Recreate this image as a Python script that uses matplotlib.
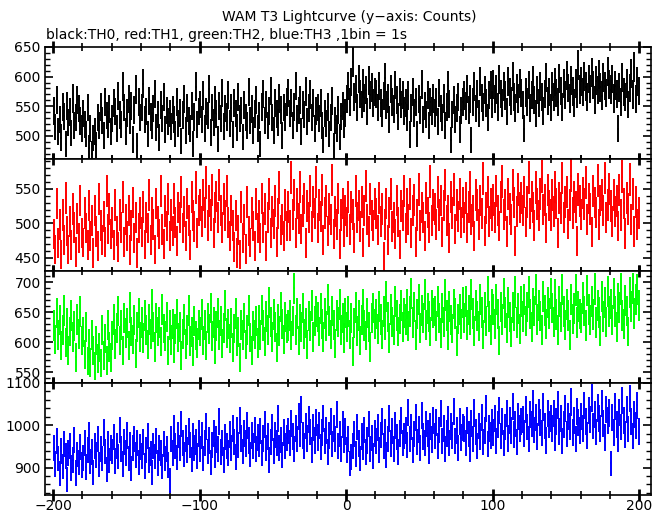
import numpy as np
import matplotlib
matplotlib.use("Agg")
import matplotlib.pyplot as plt
from matplotlib.ticker import MultipleLocator

plt.rcParams["font.family"] = ["DejaVu Sans"]

# centri dei bin (1 bin = 1 s)
tempi = np.arange(-200, 200, 1) + 0.5

# TH0 (nero)
th0 = [
    542, 515, 561, 508, 528, 497, 549, 533, 486, 551, 522, 540, 505, 563, 518, 531, 560, 546, 525, 512,
    538, 520, 503, 548, 479, 512, 470, 496, 508, 485, 531, 517, 549, 526, 501, 558, 534, 519, 545, 507,
    529, 556, 541, 512, 567, 535, 520, 583, 548, 507, 539, 562, 526, 551, 494, 544, 578, 483, 557, 531,
    548, 588, 527, 541, 503, 559, 532, 518, 546, 571, 514, 536, 497, 552, 529, 565, 511, 543, 524, 538,
    516, 544, 528, 503, 557, 521, 539, 491, 535, 562, 509, 547, 525, 513, 551, 487, 532, 583, 519, 541,
    553, 527, 568, 512, 541, 534, 579, 506, 548, 523, 560, 537, 495, 551, 529, 572, 516, 546, 532, 569,
    521, 547, 502, 556, 538, 514, 566, 529, 543, 498, 552, 531, 517, 574, 526, 545, 509, 537, 560, 512,
    534, 487, 549, 571, 526, 553, 518, 542, 576, 531, 509, 555, 537, 522, 563, 544, 501, 548, 532, 558,
    572, 538, 556, 517, 549, 584, 529, 543, 561, 508, 552, 536, 575, 524, 547, 570, 531, 555, 513, 542,
    548, 529, 556, 517, 493, 538, 521, 549, 503, 531, 559, 483, 526, 512, 544, 498, 533, 551, 520, 539,
    562, 584, 557, 591, 625, 566, 579, 548, 596, 571, 553, 588, 564, 577, 541, 593, 569, 582, 556, 574,
    571, 548, 584, 556, 539, 567, 598, 552, 563, 527, 579, 558, 545, 586, 561, 533, 574, 553, 569, 542,
    556, 531, 568, 502, 547, 574, 539, 558, 503, 562, 544, 587, 527, 551, 536, 569, 518, 557, 542, 563,
    539, 558, 524, 572, 546, 531, 563, 517, 549, 585, 554, 493, 536, 560, 528, 547, 566, 511, 543, 557,
    568, 551, 579, 544, 562, 493, 557, 583, 546, 571, 538, 592, 564, 549, 577, 556, 531, 569, 586, 553,
    587, 562, 578, 549, 595, 571, 556, 583, 568, 541, 592, 574, 559, 601, 566, 547, 580, 563, 588, 572,
    552, 512, 573, 558, 586, 547, 569, 594, 561, 538, 577, 555, 583, 566, 542, 571, 598, 559, 574, 548,
    583, 566, 591, 572, 558, 597, 576, 549, 588, 569, 602, 581, 563, 594, 575, 556, 589, 571, 620, 578,
    592, 574, 601, 583, 565, 596, 579, 607, 586, 561, 593, 577, 604, 582, 568, 598, 584, 572, 609, 587,
    578, 596, 563, 585, 571, 512, 582, 557, 598, 574, 566, 589, 553, 581, 605, 570, 616, 562, 592, 576,
]

# TH1 (rosso)
th1 = [
    484, 462, 529, 471, 498, 455, 512, 476, 537, 489, 462, 503, 468, 521, 494, 458, 507, 479, 533, 486,
    472, 515, 493, 468, 526, 481, 504, 457, 519, 488, 467, 535, 497, 476, 510, 473, 547, 492, 521, 484,
    501, 468, 527, 489, 466, 512, 494, 538, 473, 506, 482, 519, 461, 497, 530, 478, 509, 457, 493, 515,
    487, 524, 469, 508, 493, 541, 476, 515, 498, 462, 529, 503, 484, 547, 491, 470, 518, 496, 535, 481,
    512, 489, 536, 501, 474, 523, 508, 545, 493, 517, 482, 529, 504, 468, 538, 511, 495, 552, 486, 519,
    527, 503, 541, 516, 559, 497, 532, 512, 548, 486, 523, 539, 508, 556, 519, 494, 535, 511, 547, 501,
    482, 519, 497, 466, 511, 457, 490, 455, 524, 478, 505, 463, 531, 489, 472, 515, 496, 467, 528, 493,
    511, 478, 536, 494, 521, 467, 508, 543, 486, 517, 499, 532, 473, 514, 552, 490, 506, 481, 527, 496,
    524, 497, 567, 513, 541, 486, 529, 507, 553, 492, 518, 536, 471, 525, 509, 547, 495, 531, 514, 560,
    493, 527, 510, 548, 476, 515, 532, 489, 521, 505, 563, 484, 517, 498, 536, 470, 512, 529, 487, 519,
    502, 538, 491, 524, 513, 479, 547, 508, 526, 495, 531, 472, 519, 554, 506, 488, 535, 511, 497, 528,
    514, 490, 537, 503, 521, 452, 498, 529, 476, 516, 543, 495, 508, 484, 533, 502, 469, 525, 511, 547,
    493, 528, 505, 542, 486, 519, 534, 473, 512, 549, 497, 523, 508, 481, 537, 516, 494, 561, 504, 527,
    521, 498, 545, 512, 533, 487, 526, 556, 504, 519, 478, 538, 515, 549, 492, 527, 510, 543, 501, 530,
    509, 537, 493, 524, 552, 506, 518, 481, 541, 527, 498, 533, 514, 565, 489, 522, 546, 503, 529, 511,
    534, 508, 547, 519, 496, 538, 561, 513, 527, 488, 542, 521, 505, 556, 530, 474, 517, 549, 523, 537,
    519, 546, 502, 531, 567, 514, 539, 523, 497, 552, 528, 511, 543, 568, 520, 534, 493, 548, 526, 512,
    541, 517, 553, 529, 486, 537, 522, 566, 508, 531, 545, 499, 527, 569, 515, 538, 524, 474, 549, 532,
    513, 544, 528, 559, 505, 536, 521, 487, 547, 530, 516, 562, 498, 533, 541, 519, 566, 508, 527, 550,
    525, 503, 541, 517, 532, 496, 548, 512, 568, 529, 485, 537, 521, 564, 506, 543, 488, 531, 498, 515,
]

# TH2 (verde)
th2 = [
    628, 605, 649, 612, 637, 594, 621, 653, 600, 632, 586, 618, 645, 609, 627, 575, 638, 614, 651, 603,
    617, 580, 626, 569, 598, 566, 612, 587, 560, 603, 573, 591, 565, 621, 578, 606, 570, 629, 592, 574,
    611, 638, 597, 624, 652, 603, 629, 586, 641, 615, 632, 594, 658, 618, 605, 637, 582, 626, 649, 609,
    633, 607, 645, 621, 596, 638, 614, 664, 626, 592, 641, 618, 633, 601, 655, 623, 610, 642, 587, 629,
    604, 631, 589, 622, 647, 608, 625, 578, 614, 638, 597, 621, 653, 602, 617, 585, 636, 611, 599, 629,
    618, 646, 603, 629, 594, 641, 622, 657, 610, 633, 588, 627, 649, 612, 636, 598, 624, 661, 615, 631,
    606, 632, 591, 623, 648, 601, 617, 574, 629, 612, 640, 596, 621, 653, 608, 587, 627, 613, 635, 599,
    637, 612, 654, 628, 601, 643, 621, 667, 634, 609, 646, 625, 591, 638, 619, 659, 631, 605, 642, 623,
    628, 645, 611, 636, 690, 620, 648, 603, 639, 625, 657, 614, 632, 596, 644, 627, 661, 609, 635, 651,
    642, 618, 656, 631, 609, 648, 627, 671, 636, 613, 652, 629, 598, 645, 634, 663, 621, 640, 607, 649,
    626, 651, 613, 640, 584, 632, 658, 619, 645, 603, 637, 664, 628, 611, 649, 625, 592, 641, 657, 630,
    647, 622, 660, 638, 613, 651, 629, 676, 642, 607, 655, 634, 621, 668, 645, 618, 639, 662, 626, 649,
    638, 664, 627, 651, 682, 633, 659, 612, 647, 671, 624, 653, 640, 680, 629, 656, 643, 618, 662, 649,
    652, 627, 668, 641, 616, 657, 634, 679, 645, 611, 660, 637, 623, 664, 648, 602, 639, 655, 631, 666,
    641, 668, 629, 654, 637, 680, 648, 619, 661, 644, 627, 672, 650, 613, 658, 636, 685, 643, 621, 663,
    655, 630, 672, 647, 603, 659, 638, 681, 650, 624, 666, 642, 617, 658, 645, 684, 633, 656, 622, 668,
    643, 671, 635, 659, 684, 647, 626, 665, 652, 688, 638, 661, 644, 620, 676, 653, 631, 667, 648, 682,
    657, 634, 679, 646, 621, 668, 642, 688, 651, 629, 663, 645, 612, 672, 639, 656, 687, 633, 660, 647,
    641, 674, 652, 628, 686, 655, 637, 668, 646, 689, 633, 662, 650, 619, 677, 643, 666, 634, 685, 651,
    664, 637, 682, 651, 626, 673, 658, 689, 645, 631, 669, 652, 618, 683, 660, 690, 648, 671, 688, 662,
]

# TH3 (blu)
th3 = [
    946, 908, 962, 921, 885, 939, 903, 956, 927, 872, 934, 951, 899, 918, 965, 887, 931, 912, 948, 906,
    923, 958, 901, 942, 976, 914, 936, 889, 951, 929, 968, 907, 944, 921, 983, 938, 896, 955, 917, 947,
    938, 972, 915, 951, 926, 989, 943, 908, 961, 935, 976, 921, 954, 897, 947, 968, 929, 958, 912, 949,
    927, 961, 904, 942, 975, 918, 933, 889, 952, 926, 963, 911, 947, 935, 902, 956, 921, 944, 906, 870,
    968, 935, 992, 951, 924, 977, 946, 1003, 958, 931, 969, 942, 985, 953, 919, 974, 947, 961, 928, 981,
    943, 976, 921, 959, 997, 938, 964, 912, 953, 981, 929, 966, 945, 1008, 937, 959, 918, 972, 951, 934,
    978, 946, 993, 961, 925, 987, 954, 1012, 969, 938, 981, 957, 999, 964, 931, 976, 952, 989, 943, 971,
    955, 986, 934, 969, 1002, 947, 973, 918, 961, 994, 940, 977, 958, 1016, 946, 965, 929, 983, 952, 970,
    986, 958, 1004, 973, 945, 992, 967, 1021, 981, 1038, 976, 951, 998, 969, 1013, 984, 942, 995, 964, 1007,
    971, 999, 948, 983, 1017, 962, 988, 937, 976, 1009, 955, 992, 968, 1026, 951, 979, 943, 1001, 966, 985,
    942, 968, 910, 925, 951, 979, 932, 996, 957, 921, 973, 948, 989, 936, 964, 1003, 944, 970, 927, 981,
    963, 994, 941, 977, 1008, 952, 983, 929, 968, 1015, 957, 986, 945, 999, 972, 936, 981, 1011, 958, 974,
    987, 954, 1031, 968, 996, 942, 979, 1019, 961, 990, 947, 1024, 973, 958, 1003, 981, 939, 997, 966, 1012,
    974, 1006, 951, 989, 1027, 963, 992, 945, 981, 1014, 958, 997, 976, 1033, 962, 988, 947, 1009, 971, 995,
    991, 958, 1012, 979, 943, 1005, 968, 1029, 984, 952, 998, 973, 1018, 961, 987, 1040, 955, 993, 976, 1007,
    983, 1016, 962, 1001, 1034, 975, 1009, 958, 996, 1027, 969, 1012, 987, 1045, 978, 1003, 961, 1021, 992, 1008,
    1014, 981, 1038, 996, 967, 1025, 1003, 1052, 989, 1019, 973, 1031, 1006, 982, 1043, 998, 964, 1027, 1001, 1016,
    993, 1027, 971, 1009, 1048, 985, 1016, 962, 1002, 1039, 979, 1021, 997, 1055, 983, 1011, 968, 1033, 1006, 988,
    1021, 992, 1047, 1008, 976, 1035, 1013, 1064, 998, 1026, 984, 1041, 1017, 993, 1052, 1005, 971, 1038, 1011, 1029,
    910, 1019, 983, 1044, 1002, 967, 1031, 996, 1058, 1012, 978, 1037, 991, 1063, 1008, 974, 1026, 999, 1047, 985,
]

serie = [th0, th1, th2, th3]
colori = ["#000000", "#ff0000", "#00ff00", "#0000ff"]
limiti_y = [(461, 650), (430.6, 593.5), (532, 719), (835, 1100)]
passo_major = [50, 50, 50, 100]
passo_minor = [10, 10, 10, 20]

fig = plt.figure(figsize=(6.69, 5.15), dpi=100)

sx, larg = 45 / 669, 606 / 669
alt = 112 / 515
basi = [1 - 159 / 515, 1 - 271 / 515, 1 - 383 / 515, 1 - 495 / 515]

for i in range(4):
    ax = fig.add_axes([sx, basi[i], larg, alt])
    y = np.array(serie[i], dtype=float)
    # barre d'errore poissoniane, come nel grafico originale
    ax.errorbar(tempi, y, yerr=np.sqrt(y), xerr=0.5, fmt="none",
                ecolor=colori[i], elinewidth=1.4, capsize=0)
    ax.set_xlim(-205.5, 208)
    ax.set_ylim(*limiti_y[i])
    ax.xaxis.set_major_locator(MultipleLocator(100))
    ax.xaxis.set_minor_locator(MultipleLocator(20))
    ax.yaxis.set_major_locator(MultipleLocator(passo_major[i]))
    ax.yaxis.set_minor_locator(MultipleLocator(passo_minor[i]))
    ax.tick_params(axis="x", which="major", direction="inout", length=9, width=2,
                   top=True, bottom=True, labelsize=10, pad=-1.5)
    ax.tick_params(axis="x", which="minor", direction="inout", length=6, width=1.2,
                   top=True, bottom=True)
    ax.tick_params(axis="y", which="major", direction="in", length=6, width=1.2,
                   left=True, right=True, labelsize=10, pad=3)
    ax.tick_params(axis="y", which="minor", direction="in", length=3.5, width=1,
                   left=True, right=True)
    for s in ax.spines.values():
        s.set_linewidth(1.2)
    if i < 3:
        ax.tick_params(axis="x", labelbottom=False)

fig.text(349 / 669, 1 - 17 / 515, "WAM T3 Lightcurve (y\u2212axis: Counts)",
         ha="center", va="center", fontsize=10)
fig.text(46 / 669, 1 - 35 / 515, "black:TH0, red:TH1, green:TH2, blue:TH3 ,1bin = 1s",
         ha="left", va="center", fontsize=10)

plt.savefig("out.png", dpi=100)
